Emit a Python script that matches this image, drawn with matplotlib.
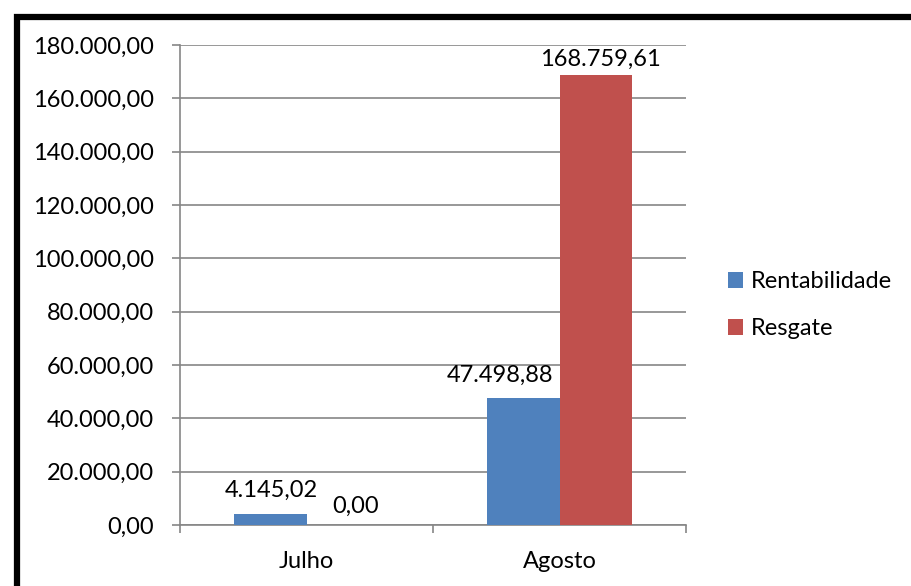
import matplotlib.pyplot as plt
from matplotlib.patches import Rectangle

meses = ['Julho', 'Agosto']
rentabilidade = [4145.02, 47498.88]
resgate = [0.00, 168759.61]
yticks = [0, 20000, 40000, 60000, 80000, 100000, 120000, 140000, 160000, 180000]

# deslocamento dos rótulos (pontos), como o Excel posicionou
desloc_rent = [(1.1, 12.2), (-16.6, 12.2)]
desloc_resg = [(9.4, 8.6), (3.6, 6.5)]


def fmt_br(v):
    s = '{:,.2f}'.format(v)
    return s.replace(',', 'X').replace('.', ',').replace('X', '.')


plt.rcParams['font.family'] = ['Lato', 'DejaVu Sans']
fs = 17

W, H = 912, 586
fig = plt.figure(figsize=(W / 100, H / 100), dpi=100)
ax = fig.add_axes([180 / W, 1 - 525 / H, (686 - 180) / W, (525 - 45) / H])

w = 0.2866
x = [0, 1]
b1 = ax.bar([i - w / 2 for i in x], rentabilidade, w, color='#4F81BD', label='Rentabilidade', zorder=3)
b2 = ax.bar([i + w / 2 for i in x], resgate, w, color='#C0504D', label='Resgate', zorder=3)

for bars, vals, offs in [(b1, rentabilidade, desloc_rent), (b2, resgate, desloc_resg)]:
    for r, v, o in zip(bars, vals, offs):
        ax.annotate(fmt_br(v), (r.get_x() + r.get_width() / 2, v), xytext=o,
                    textcoords='offset points', ha='center', va='baseline', fontsize=fs, zorder=4)

ax.set_xlim(-0.5, 1.5)
ax.set_ylim(0, 180000)
ax.set_yticks(yticks)
ax.set_yticklabels([fmt_br(v) for v in yticks], fontsize=fs)
ax.set_xticks(x)
ax.set_xticklabels(meses, fontsize=fs)
ax.set_xticks([-0.5, 0.5, 1.5], minor=True)
ax.tick_params(axis='x', which='major', length=0, pad=19)
ax.tick_params(axis='x', which='minor', length=6, width=1.2, color='#868686')
ax.tick_params(axis='y', length=6, width=1.2, color='#868686', pad=13)
ax.yaxis.grid(True, color='#868686', linewidth=1.2, zorder=0)
for s in ['top', 'right']:
    ax.spines[s].set_visible(False)
for s in ['left', 'bottom']:
    ax.spines[s].set_color('#868686')
    ax.spines[s].set_linewidth(1.2)

fig.legend(handles=[b1, b2], loc='upper left', bbox_to_anchor=(719 / W, 1 - 262 / H),
           frameon=False, fontsize=fs, handlelength=0.635, handleheight=0.635,
           handletextpad=0.3, labelspacing=1.1, borderaxespad=0)

fig.patches.append(Rectangle((17 / W, -0.1), 1.2, 1 - 16.5 / H + 0.1, transform=fig.transFigure,
                             fill=False, edgecolor='black', linewidth=4.5, zorder=10))

fig.savefig('out.png', dpi=100)
